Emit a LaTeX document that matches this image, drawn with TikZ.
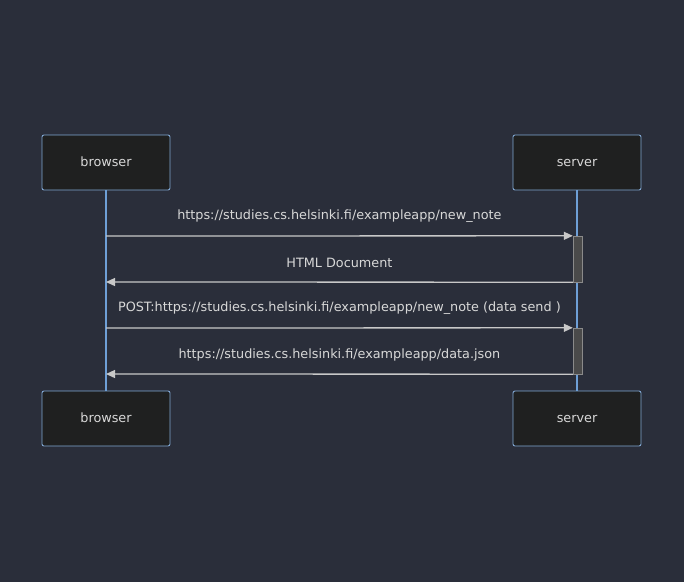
\documentclass[tikz,border=0pt]{standalone}
\usepackage{fontspec}
\setmainfont{DejaVu Sans}
\usetikzlibrary{arrows.meta}
\usetikzlibrary{positioning}

\definecolor{bgcol}{HTML}{2A2E3A}
\definecolor{boxfill}{HTML}{1F2020}
\definecolor{boxline}{HTML}{81A8D4}
\definecolor{lifeline}{HTML}{6E9FD6}
\definecolor{msgline}{HTML}{C8C8C8}
\definecolor{txt}{HTML}{D8D8D8}
\definecolor{actfill}{HTML}{4A4A4A}
\definecolor{actline}{HTML}{8A8A8A}

\begin{document}
\begin{tikzpicture}[x=1pt, y=-1pt, >={Triangle[length=9pt, width=8pt]}, font=\fontsize{12.8}{15}\selectfont]
		 \tikzstyle{actor} = [draw=boxline, line width=0.9pt, fill=boxfill, rounded corners=2pt, minimum width=128pt, minimum height=55pt, text=txt, text height=1.4ex, text depth=0.1ex];
		 \tikzstyle{active} = [draw=actline, fill=actfill, minimum width=9pt, minimum height=46pt, inner sep=0pt];
		 \tikzstyle{life} = [draw=lifeline, line width=1.2pt];
		 \tikzstyle{msg} = [draw=msgline, line width=1.3pt, ->];
		 \tikzstyle{msgtext} = [midway, yshift=19.5pt, text=txt];

		 \fill [bgcol] (0,0) rectangle (684,582);

		 \node [actor] (browser_top) at (106,162.5) {browser};
		 \node [actor] (server_top)  at (577,162.5) {server};
		 \node [actor] (browser_bot) at (106,418.5) {browser};
		 \node [actor] (server_bot)  at (577,418.5) {server};

		 \draw [life] (browser_top) -- (browser_bot);
		 \draw [life] (server_top) -- (server_bot);

		 \node [active] (act_1) at (577.5,259) {};
		 \node [active] (act_2) at (577.5,351) {};

		 \coordinate (req_1) at (106,236);
		 \coordinate (res_1) at (106,282);
		 \coordinate (req_2) at (106,328);
		 \coordinate (res_2) at (106,374);

		 \draw [msg] (req_1) -- (act_1.north west) node [msgtext] {https://studies.cs.helsinki.fi/exampleapp/new\_note};
		 \draw [msg] (act_1.south west) -- (res_1) node [msgtext] {HTML Document};
		 \draw [msg] (req_2) -- (act_2.north west) node [msgtext] {POST:https://studies.cs.helsinki.fi/exampleapp/new\_note (data send )};
		 \draw [msg] (act_2.south west) -- (res_2) node [msgtext] {https://studies.cs.helsinki.fi/exampleapp/data.json};
	\end{tikzpicture}
\end{document}
